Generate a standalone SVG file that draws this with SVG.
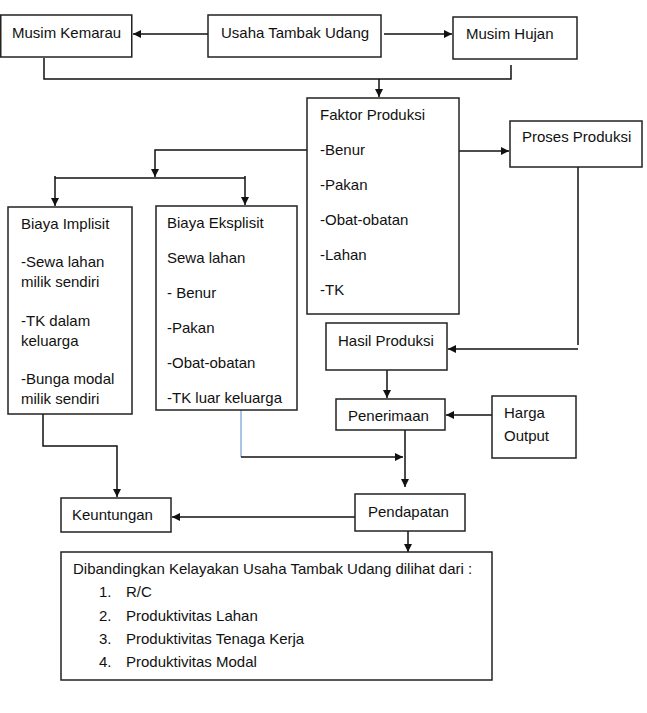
<svg xmlns="http://www.w3.org/2000/svg" width="647" height="713" viewBox="0 0 647 713">
<style>
  .box { fill: #fff; stroke: #222; stroke-width: 1.5; }
  .t { font-family: "Liberation Sans", Arial, sans-serif; font-size: 15px; fill: #111; }
  .c { fill: none; stroke: #111; stroke-width: 1.5; }
  .a { marker-end: url(#arr); }
  .blue { fill: none; stroke: #8eb0dc; stroke-width: 1.5; }
</style>
<defs>
  <marker id="arr" markerUnits="userSpaceOnUse" markerWidth="9" markerHeight="9" refX="8" refY="4" orient="auto">
    <path d="M0,0 L8,4 L0,8 z" fill="#111"/>
  </marker>
  <clipPath id="clipEks"><rect x="156" y="206" width="141" height="203"/></clipPath>
</defs>
<rect width="647" height="713" fill="#fff"/>

<g id="connectors">
  <path class="c a" d="M208,34 H133"/>
  <path class="c a" d="M384,34 H452"/>
  <path class="c" d="M44,58 V79 H511 V65"/>
  <path class="c a" d="M379,79 V97"/>
  <path class="c a" d="M459,151 H509"/>
  <path class="c a" d="M307,150 H155 V177"/>
  <path class="c" d="M55,178 H245"/>
  <path class="c a" d="M55,176 V206"/>
  <path class="c a" d="M245,176 V205"/>
  <path class="c" d="M578,167 V345"/>
  <path class="c a" d="M578,349 H448"/>
  <path class="c a" d="M387,370 V398"/>
  <path class="c a" d="M492,415 H446"/>
  <path class="c a" d="M405,430 V487"/>
  <path class="blue" d="M241,410 V457"/>
  <path class="c a" d="M241,457 H403"/>
  <path class="c a" d="M43,414 V446 H117 V497"/>
  <path class="c a" d="M355,517 H172"/>
  <path class="c a" d="M408,531 V552"/>
</g>

<g id="musim-kemarau">
  <rect class="box" x="0.75" y="15" width="131" height="42"/>
  <text class="t" x="12" y="38">Musim Kemarau</text>
</g>
<g id="usaha-tambak-udang">
  <rect class="box" x="208" y="15" width="173" height="42"/>
  <text class="t" x="221" y="38">Usaha Tambak Udang</text>
</g>
<g id="musim-hujan">
  <rect class="box" x="453" y="17" width="124" height="42"/>
  <text class="t" x="466" y="39">Musim Hujan</text>
</g>
<g id="faktor-produksi">
  <rect class="box" x="307" y="98" width="152" height="216"/>
  <text class="t" x="320" y="120">Faktor Produksi</text>
  <text class="t" x="320" y="155">-Benur</text>
  <text class="t" x="320" y="190">-Pakan</text>
  <text class="t" x="320" y="225">-Obat-obatan</text>
  <text class="t" x="320" y="260">-Lahan</text>
  <text class="t" x="320" y="295">-TK</text>
</g>
<g id="proses-produksi">
  <rect class="box" x="510" y="121" width="132" height="46"/>
  <text class="t" x="522" y="142">Proses Produksi</text>
</g>
<g id="biaya-implisit">
  <rect class="box" x="8" y="207" width="124" height="207"/>
  <text class="t" x="21" y="229">Biaya Implisit</text>
  <text class="t" x="21" y="267">-Sewa lahan</text>
  <text class="t" x="21" y="287">milik sendiri</text>
  <text class="t" x="21" y="326">-TK dalam</text>
  <text class="t" x="21" y="346">keluarga</text>
  <text class="t" x="21" y="384">-Bunga modal</text>
  <text class="t" x="21" y="404">milik sendiri</text>
</g>
<g id="biaya-eksplisit">
  <rect class="box" x="156" y="206" width="141" height="204"/>
  <text class="t" x="167" y="228">Biaya Eksplisit</text>
  <text class="t" x="167" y="263">Sewa lahan</text>
  <text class="t" x="167" y="298">- Benur</text>
  <text class="t" x="167" y="333">-Pakan</text>
  <text class="t" x="167" y="368">-Obat-obatan</text>
  <text class="t" x="167" y="403" clip-path="url(#clipEks)">-TK luar keluarga</text>
</g>
<g id="hasil-produksi">
  <rect class="box" x="326" y="323" width="121" height="47"/>
  <text class="t" x="338" y="346">Hasil Produksi</text>
</g>
<g id="penerimaan">
  <rect class="box" x="336" y="399" width="109" height="31"/>
  <text class="t" x="348" y="421">Penerimaan</text>
</g>
<g id="harga-output">
  <rect class="box" x="492" y="396" width="84" height="62"/>
  <text class="t" x="504" y="418">Harga</text>
  <text class="t" x="504" y="441">Output</text>
</g>
<g id="keuntungan">
  <rect class="box" x="61" y="498" width="110" height="34"/>
  <text class="t" x="72" y="520">Keuntungan</text>
</g>
<g id="pendapatan">
  <rect class="box" x="355" y="494" width="110" height="37"/>
  <text class="t" x="368" y="517">Pendapatan</text>
</g>
<g id="kelayakan">
  <rect class="box" x="61" y="552" width="431" height="128"/>
  <text class="t" x="73" y="574">Dibandingkan Kelayakan Usaha Tambak Udang dilihat dari :</text>
  <text class="t" x="99" y="597">1.</text>
  <text class="t" x="126" y="597">R/C</text>
  <text class="t" x="99" y="621">2.</text>
  <text class="t" x="126" y="621">Produktivitas Lahan</text>
  <text class="t" x="99" y="644">3.</text>
  <text class="t" x="126" y="644">Produktivitas Tenaga Kerja</text>
  <text class="t" x="99" y="667">4.</text>
  <text class="t" x="126" y="667">Produktivitas Modal</text>
</g>
</svg>
